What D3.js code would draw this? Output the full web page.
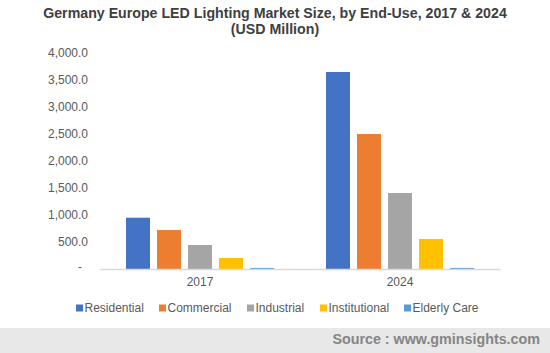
<!DOCTYPE html>
<html>
<head>
<meta charset="utf-8">
<script src="https://cdn.jsdelivr.net/npm/d3@7"></script>
<style>
  body { margin: 0; background: #fff; }
  svg { display: block; font-family: "Liberation Sans", Arial, sans-serif; }
</style>
</head>
<body>
<svg width="550" height="353"></svg>
<script>
// chart data
var years = ['2017', '2024'];
var segments = ['Residential', 'Commercial', 'Industrial', 'Institutional', 'Elderly Care'];
var values2017 = [950, 722, 444, 204, 20];
var values2024 = [3648, 2500, 1407, 556, 20];
var yTicks = [0, 500, 1000, 1500, 2000, 2500, 3000, 3500, 4000];
var colors = ['#4472c4', '#ed7d31', '#a5a5a5', '#ffc000', '#5b9bd5'];

var svg = d3.select('svg');

var rows = years.map(function(y, i) {
  var vals = i === 0 ? values2017 : values2024;
  return { year: y, values: segments.map(function(s, j) { return { seg: s, v: vals[j] }; }) };
});

// scales
var x0 = d3.scaleBand().domain(years).range([100, 500]);
var x1 = d3.scaleBand().domain(segments).range([26, 174]).paddingInner(0.226);
var y = d3.scaleLinear().domain([0, 4000]).range([269, 53]);
var color = d3.scaleOrdinal().domain(segments).range(colors);

// title
var title = svg.append('text')
  .attr('x', 275).attr('y', 18)
  .attr('text-anchor', 'middle')
  .attr('font-weight', 'bold')
  .attr('font-size', 14.2)
  .attr('fill', '#404040');
title.append('tspan').attr('x', 275).text('Germany Europe LED Lighting Market Size, by End-Use, 2017 & 2024');
title.append('tspan').attr('x', 275).attr('dy', 16).text('(USD Million)');

// y axis labels
var yAxis = svg.append('g')
  .attr('transform', 'translate(88,0)')
  .call(d3.axisLeft(y).tickValues(yTicks).tickSize(0).tickPadding(0)
    .tickFormat(function(d) { return d === 0 ? '-' : d3.format(',.1f')(d); }));
yAxis.select('.domain').remove();
yAxis.selectAll('text')
  .attr('font-family', '"Liberation Sans", Arial, sans-serif')
  .attr('font-size', 12)
  .attr('fill', '#595959');
yAxis.selectAll('.tick').filter(function(d) { return d === 0; }).select('text')
  .attr('dx', -6).attr('dy', '0.1em');

// bars
var groups = svg.append('g').selectAll('g')
  .data(rows)
  .enter().append('g')
  .attr('transform', function(d) { return 'translate(' + x0(d.year) + ',0)'; });

groups.selectAll('rect')
  .data(function(d) { return d.values; })
  .enter().append('rect')
  .attr('x', function(d) { return x1(d.seg); })
  .attr('width', x1.bandwidth())
  .attr('y', function(d) { return y(d.v); })
  .attr('height', function(d) { return y(0) - y(d.v); })
  .attr('fill', function(d) { return color(d.seg); });

// x axis
var xAxis = svg.append('g')
  .attr('transform', 'translate(0,' + y(0) + ')')
  .call(d3.axisBottom(x0).tickSize(0).tickPadding(8));
xAxis.select('.domain').attr('stroke', '#d9d9d9').attr('stroke-width', 1.5);
xAxis.selectAll('text')
  .attr('font-family', '"Liberation Sans", Arial, sans-serif')
  .attr('font-size', 12)
  .attr('fill', '#595959');

// legend
var legendX = [76, 159, 247, 320, 404];
var legend = svg.append('g').selectAll('g')
  .data(segments)
  .enter().append('g')
  .attr('transform', function(d, i) { return 'translate(' + legendX[i] + ',308)'; });
legend.append('rect')
  .attr('x', 0).attr('y', -3.5)
  .attr('width', 7).attr('height', 7)
  .attr('fill', function(d) { return color(d); });
legend.append('text')
  .attr('x', 8.5).attr('y', 4.3)
  .attr('font-size', 12)
  .attr('fill', '#595959')
  .text(function(d) { return d; });

// source band
svg.append('rect')
  .attr('x', 0).attr('y', 328)
  .attr('width', 550).attr('height', 25)
  .attr('fill', '#e8e8e8');
svg.append('text')
  .attr('x', 540).attr('y', 344)
  .attr('text-anchor', 'end')
  .attr('font-weight', 'bold')
  .attr('font-size', 14.3)
  .attr('fill', '#858585')
  .text('Source : www.gminsights.com');
</script>
</body>
</html>
